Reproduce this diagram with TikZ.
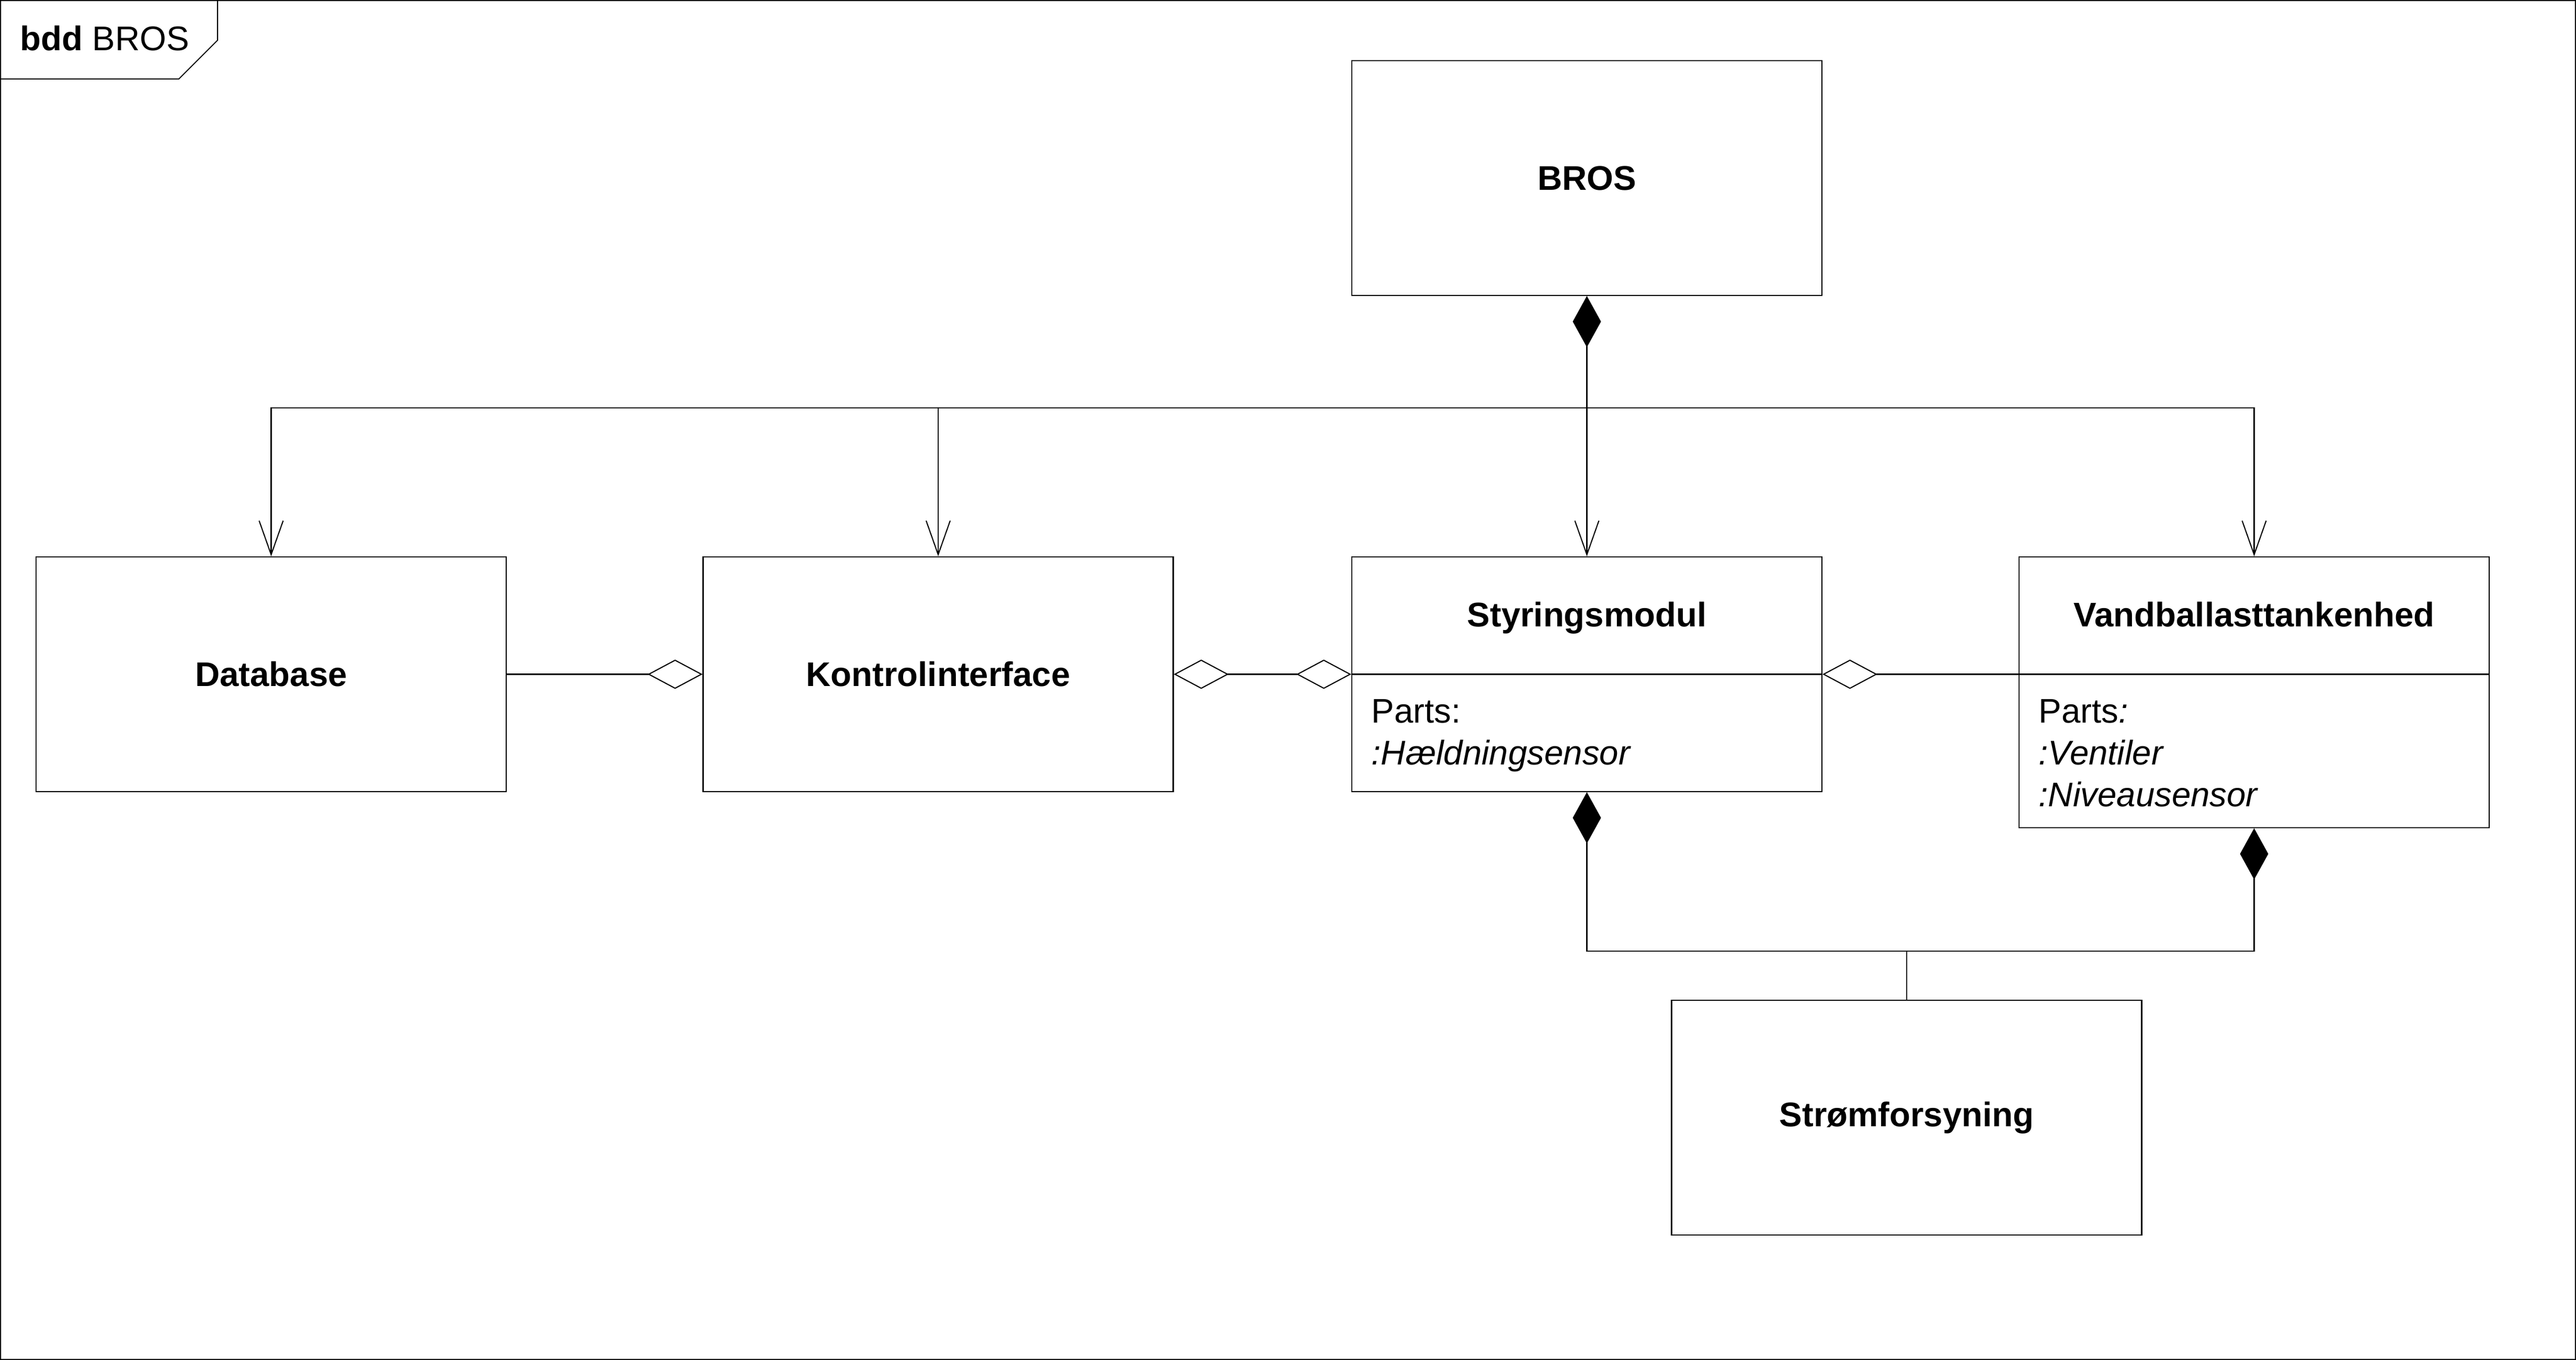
\documentclass[tikz,border=0pt]{standalone}
\usepackage{fontspec}
\setmainfont{Liberation Sans}
\usepackage{tikz}
\usetikzlibrary{arrows.meta}

\tikzset{
	block/.style={draw, line width=0.6pt, minimum width=8.99cm, minimum height=4.49cm, inner sep=0pt},
	tobox/.style={line width=0.6pt, -{Straight Barb[length=0.65cm, width=0.46cm, line width=0.6pt]}},
	composed/.style={line width=0.6pt, {Diamond[length=0.98cm, width=0.54cm]}-},
	aggto/.style={line width=0.6pt, -{Diamond[open, length=1.05cm, width=0.56cm, fill=white]}},
	aggfrom/.style={line width=0.6pt, {Diamond[open, length=1.05cm, width=0.56cm, fill=white]}-},
	aggboth/.style={line width=0.6pt, {Diamond[open, length=1.05cm, width=0.56cm, fill=white]}-{Diamond[open, length=1.05cm, width=0.56cm, fill=white]}}
}

\begin{document}
\begin{tikzpicture}[every node/.style={font=\fontsize{18.6}{22.8}\selectfont}]
			\useasboundingbox (0,0) rectangle (49.26,-26.01);
			\draw[line width=0.6pt] (0.01,-0.01) rectangle (49.25,-26.00);
			\draw[line width=0.6pt] (0,-1.51) -- (3.42,-1.51) -- (4.16,-0.77) -- (4.16,0);
			\node [anchor=base west, inner sep=0pt] (frametitle) at (0.38,-0.97) {\textbf{bdd} BROS};
			
			\node [block] (bros) at (30.345,-3.405) {\textbf{BROS}};
			\node [block] (db) at (5.185,-12.895) {\textbf{Database}};
			\node [block] (kon) at (17.94,-12.895) {\textbf{Kontrolinterface}};
			\node [block] (styr) at (30.345,-12.895) {};
			\node [block, minimum height=5.18cm] (vand) at (43.105,-13.24) {};
			\node [block] (strom) at (36.46,-21.375) {\textbf{Strømforsyning}};
			
			\node [anchor=base, inner sep=0pt] (styrname) at (30.345,-11.98) {\textbf{Styringsmodul}};
			\node [anchor=base, inner sep=0pt] (vandname) at (43.105,-11.98) {\textbf{Vandballasttankenhed}};
			\draw[line width=0.6pt] (styr.west) -- (styr.east);
			\draw[line width=0.6pt] (vand.west |- styr.east) -- (vand.east |- styr.east);
			
			\node [anchor=base west, inner sep=0pt] (styrparts) at (26.22,-13.82) {Parts:};
			\node [anchor=base west, inner sep=0pt] (styrsensor) at (26.22,-14.62) {\textit{:Hældningsensor}};
			\node [anchor=base west, inner sep=0pt] (vandparts) at (38.98,-13.82) {Parts\textit{:}};
			\node [anchor=base west, inner sep=0pt] (vandventil) at (38.98,-14.62) {\textit{:Ventiler}};
			\node [anchor=base west, inner sep=0pt] (vandniveau) at (38.98,-15.42) {\textit{:Niveausensor}};
			
			\coordinate (bus) at (30.345,-7.8);
			\draw[composed] (bros.south) -- (bus);
			\draw[line width=0.6pt] (db.north |- bus) -- (vand.north |- bus);
			\draw[tobox] (bus) -| (db.north);
			\draw[tobox] (bus) -| (kon.north);
			\draw[tobox] (bus) -- (styr.north);
			\draw[tobox] (bus) -| (vand.north);
			
			\draw[aggto] (db.east) -- (kon.west);
			\draw[aggboth] (kon.east) -- (styr.west);
			\draw[aggfrom] (styr.east) -- (vand.west |- styr.east);
			
			\coordinate (split) at (36.46,-18.19);
			\draw[composed] (styr.south) |- (split);
			\draw[composed] (vand.south) |- (split);
			\draw[line width=0.6pt] (strom.north) -- (split);
		\end{tikzpicture}
\end{document}
